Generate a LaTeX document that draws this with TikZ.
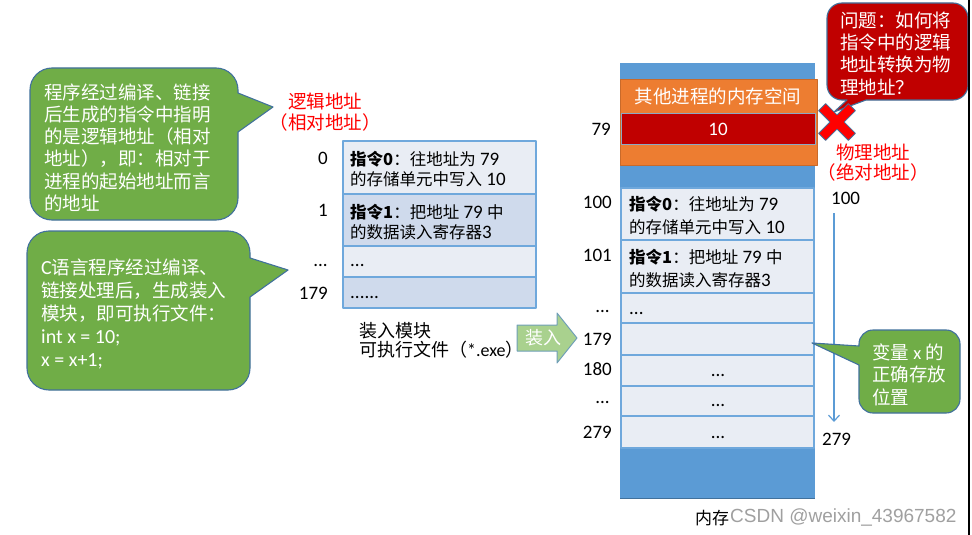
\documentclass[tikz,border=0pt]{standalone}
\usepackage{fontspec}
\setmainfont{Carlito}
\newfontfamily\cjk{Noto Sans CJK SC}
\newfontfamily\wmfont{Liberation Sans}
\usetikzlibrary{arrows.meta}

\definecolor{bubblegreen}{HTML}{70AD47}
\definecolor{bubbleline}{HTML}{41719C}
\definecolor{bubblered}{HTML}{C00000}
\definecolor{memblue}{HTML}{5B9BD5}
\definecolor{memorange}{HTML}{ED7D31}
\definecolor{cellline}{HTML}{6FA8DC}
\definecolor{celllight}{HTML}{E9EDF4}
\definecolor{celldark}{HTML}{CFDAEC}
\definecolor{loadgreen}{HTML}{A9D18E}
\definecolor{loadline}{HTML}{6F9FB8}
\definecolor{wmgray}{HTML}{A0A0A0}

\newcommand\zc[1]{{\cjk\fontsize{16.5}{20}\selectfont #1}}
\newcommand\latn[1]{{\normalfont\fontsize{20}{23}\selectfont #1}}

\tikzset{
  bubble/.style={draw=bubbleline, line width=1.1pt},
  bubbletext/.style={text=white, align=left, inner sep=0pt, anchor=west,
    font=\cjk\fontsize{18.5}{22.2}\selectfont},
  cellbox/.style={draw=cellline, line width=1.4pt},
  celltext/.style={anchor=west, inner sep=0pt, align=left,
    font=\fontsize{19}{20}\selectfont},
  rowlabel/.style={anchor=east, inner sep=0pt, font=\fontsize{19}{20}\selectfont},
  redlabel/.style={text=red, inner sep=0pt, align=center,
    font=\cjk\fontsize{18.5}{21}\selectfont},
  addrarrow/.style={draw=memblue, line width=1.2pt, -{Straight Barb[length=6pt,width=11pt]}},
}

\begin{document}
\begin{tikzpicture}[x=1pt, y=-1pt, line join=round]
  \useasboundingbox[fill=white] (0,0) rectangle (972,535);

  % bubble: logical address
  \draw[bubble, fill=bubblegreen] (52,68) -- (216,68) arc[start angle=-90, end angle=0, radius=22]
    -- (238,93) -- (273,107) -- (238,132) -- (238,198) arc[start angle=0, end angle=90, radius=22]
    -- (52,220) arc[start angle=90, end angle=180, radius=22]
    -- (30,90) arc[start angle=180, end angle=270, radius=22] -- cycle;
  \node[bubbletext] (logicnote) at (44,147.5)
    {程序经过编译、链接\\后生成的指令中指明\\的是逻辑地址（相对\\地址），即：相对于\\进程的起始地址而言\\的地址};

  % bubble: load module
  \draw[bubble, fill=bubblegreen] (49,231) -- (228,231) arc[start angle=-90, end angle=0, radius=22]
    -- (250,258) -- (288,270) -- (250,297) -- (250,368) arc[start angle=0, end angle=90, radius=22]
    -- (49,390) arc[start angle=90, end angle=180, radius=22]
    -- (27,253) arc[start angle=180, end angle=270, radius=22] -- cycle;
  \node[bubbletext, font=\cjk\fontsize{18.5}{23}\selectfont] (codenote) at (41,314)
    {\latn{C}语言程序经过编译、\\链接处理后，生成装入\\模块，即可执行文件：\\\latn{int x = 10;}\\\latn{x = x+1;}};

  % logical address label
  \node[redlabel] (logiclabel) at (325,112) {逻辑地址\\（相对地址）};

  % load module
  \draw[cellbox, fill=celllight] (343,141) rectangle (536,194);
  \draw[cellbox, fill=celldark] (343,194) rectangle (536,246);
  \draw[cellbox, fill=celllight] (343,246) rectangle (536,277);
  \draw[cellbox, fill=celldark] (343,277) rectangle (536,308);
  \node[celltext] (linst0) at (350,169) {\zc{\bfseries 指令0}\zc{：往地址为} 79\\\zc{的存储单元中写入} 10};
  \node[celltext] (linst1) at (350,222) {\zc{\bfseries 指令1}\zc{：把地址} 79 \zc{中}\\\zc{的数据读入寄存器}3};
  \node[celltext] (ldots) at (350,265) {...};
  \node[celltext] (lend) at (350,297) {......};
  \node[rowlabel] (la0) at (328,158) {0};
  \node[rowlabel] (la1) at (328,210) {1};
  \node[rowlabel] (ladots) at (328,265) {...};
  \node[rowlabel] (la179) at (328,293) {179};
  \node[anchor=west, inner sep=0pt, align=left, font=\cjk\fontsize{18}{19.5}\selectfont] (modname) at (359,340.5)
    {装入模块\\可执行文件（{\normalfont *.exe}）};

  % load arrow
  \draw[draw=loadline, fill=loadgreen, line width=1pt] (517,325) -- (557,325) -- (557,313) -- (577,338)
    -- (557,363) -- (557,351) -- (517,351) -- cycle;
  \node[text=white, inner sep=0pt, font=\cjk\fontsize{18}{20}\selectfont] (loadtext) at (543,338) {装入};

  % memory
  \fill[memblue] (620,63) rectangle (815,498);
  \draw[draw=bubbleline, line width=1pt] (620,498) -- (815,498);
  \draw[draw=memorange!85!black, fill=memorange, line width=0.6pt] (620,79) rectangle (817,165);
  \draw[draw=bubbleline!60, fill=bubblered, line width=0.8pt] (621,113) rectangle (815,144);
  \node[text=white, inner sep=0pt, font=\cjk\fontsize{18.5}{20}\selectfont] (otherproc) at (718,96) {其他进程的内存空间};
  \node[text=white, inner sep=0pt, font=\fontsize{19}{20}\selectfont] (val10) at (718,129) {10};
  \foreach \ya/\yb in {188/240, 240/293, 293/323, 323/355, 355/386, 386/416, 416/448}
    \draw[cellbox, fill=celllight] (621,\ya) rectangle (814,\yb);
  \node[celltext, font=\fontsize{19}{23}\selectfont] (pinst0) at (629,215.5)
    {\zc{\bfseries 指令0}\zc{：往地址为} 79\\\zc{的存储单元中写入} 10};
  \node[celltext, font=\fontsize{19}{23}\selectfont] (pinst1) at (629,268.5)
    {\zc{\bfseries 指令1}\zc{：把地址} 79 \zc{中}\\\zc{的数据读入寄存器}3};
  \node[celltext] (pdots) at (629,313) {...};
  \node[inner sep=0pt, font=\fontsize{19}{20}\selectfont] (p180dots) at (718,375) {...};
  \node[inner sep=0pt, font=\fontsize{19}{20}\selectfont] (pmiddots) at (718,405) {...};
  \node[inner sep=0pt, font=\fontsize{19}{20}\selectfont] (p279dots) at (718,437) {...};
  \node[rowlabel] (pa79) at (611,129) {79};
  \node[rowlabel] (pa100) at (612,202) {100};
  \node[rowlabel] (pa101) at (612,255) {101};
  \node[rowlabel] (padots) at (610,311) {...};
  \node[rowlabel] (pa179) at (612,339) {179};
  \node[rowlabel] (pa180) at (612,369) {180};
  \node[rowlabel] (padots2) at (610,402) {...};
  \node[rowlabel] (pa279) at (612,432) {279};
  \node[inner sep=0pt, font=\cjk\fontsize{17}{20}\selectfont] (memname) at (712,518) {内存};

  % physical address range
  \node[redlabel, font=\cjk\fontsize{18.5}{20}\selectfont] (physlabel) at (873,163) {物理地址\\（绝对地址）};
  \node[anchor=west, inner sep=0pt, font=\fontsize{19}{20}\selectfont] (phys100) at (831,198) {100};
  \node[anchor=west, inner sep=0pt, font=\fontsize{19}{20}\selectfont] (phys279) at (822,439) {279};
  \coordinate (arrtop) at (834,213);
  \coordinate (arrbot) at (834,422);
  \draw[addrarrow] (arrtop) -- (arrbot);

  % question bubble
  \draw[bubble, fill=bubblered] (842,3) -- (953,3) arc[start angle=-90, end angle=0, radius=15]
    -- (968,85) arc[start angle=0, end angle=90, radius=15] -- (866,100) -- (834,112) -- (847,100)
    -- (842,100) arc[start angle=90, end angle=180, radius=15]
    -- (827,18) arc[start angle=180, end angle=270, radius=15] -- cycle;
  \node[bubbletext, font=\cjk\fontsize{18.5}{22.3}\selectfont] (question) at (840,53.5)
    {问题：如何将\\指令中的逻辑\\地址转换为物\\理地址？};

  % red cross
  \begin{scope}[shift={(837,122)}, rotate=45]
    \filldraw[fill=red, draw=bubbleline, line width=0.8pt] (5,5) -- (21,5) -- (21,-5) -- (5,-5) -- (5,-21)
      -- (-5,-21) -- (-5,-5) -- (-21,-5) -- (-21,5) -- (-5,5) -- (-5,21) -- (5,21) -- cycle;
  \end{scope}

  % bubble: variable x
  \draw[bubble, fill=bubblegreen] (873,330) -- (946,330) arc[start angle=-90, end angle=0, radius=14]
    -- (960,399) arc[start angle=0, end angle=90, radius=14]
    -- (873,413) arc[start angle=90, end angle=180, radius=14]
    -- (859,365) -- (812,343) -- (859,346) -- (859,344) arc[start angle=180, end angle=270, radius=14] -- cycle;
  \node[bubbletext, font=\cjk\fontsize{18.5}{22.5}\selectfont] (varnote) at (872,374.5)
    {变量 {\normalfont x} 的\\正确存放\\位置};

  % frame and watermark
  \draw[line width=2pt] (969,0) -- (969,535);
  \node[anchor=west, inner sep=0pt, text=wmgray, font=\wmfont\fontsize{19}{20}\selectfont] (mark) at (730,517)
    {CSDN @weixin\_43967582};
\end{tikzpicture}
\end{document}
